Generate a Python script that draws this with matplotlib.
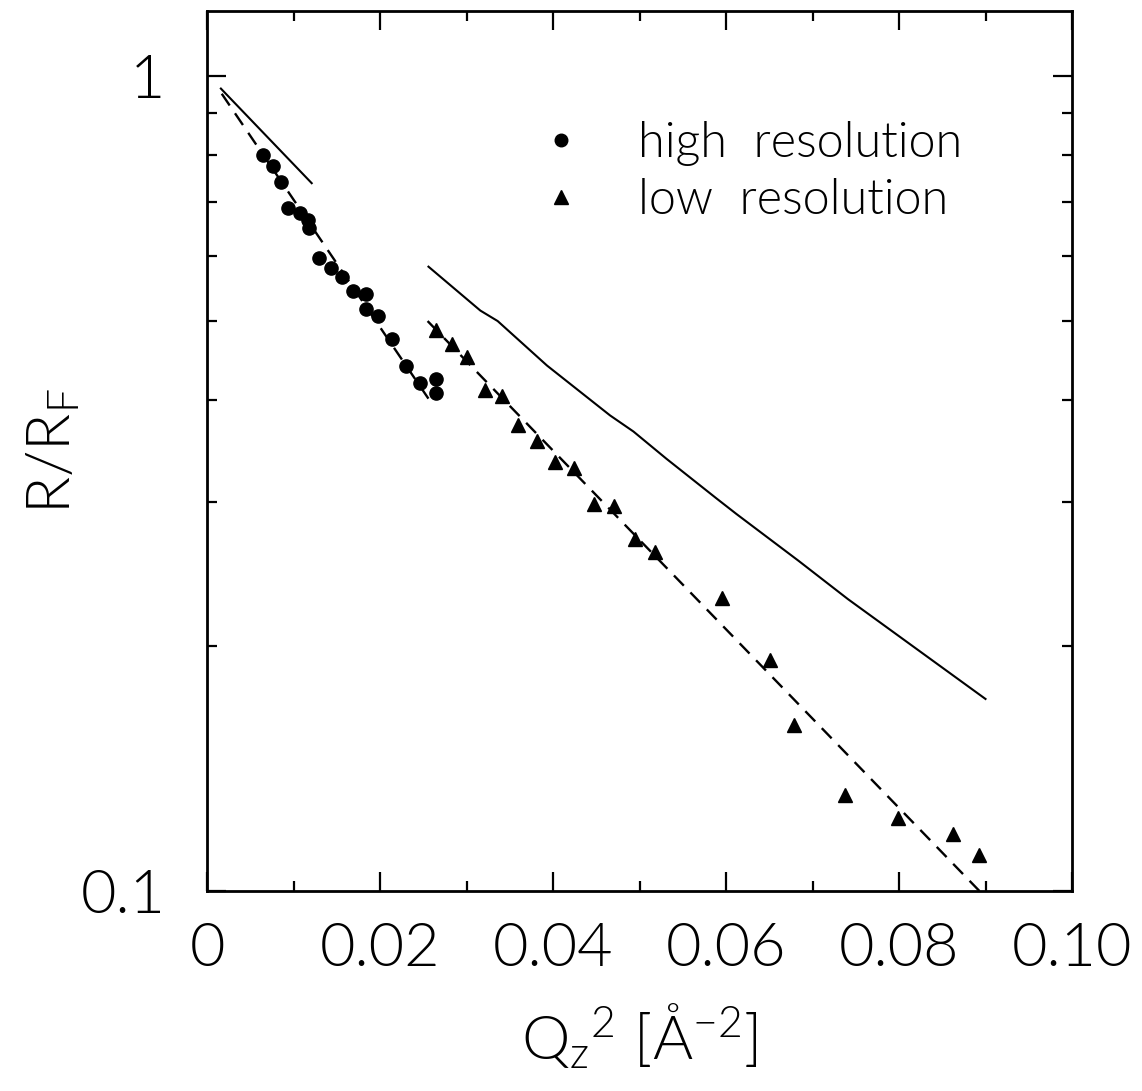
import numpy as np
import matplotlib.pyplot as plt
from matplotlib.ticker import FixedLocator, NullFormatter, LogLocator

plt.rcParams['font.family'] = ['Lato', 'DejaVu Sans']
plt.rcParams['font.weight'] = 300
plt.rcParams['axes.labelweight'] = 300
plt.rcParams['mathtext.fontset'] = 'custom'
plt.rcParams['mathtext.rm'] = 'Lato:weight=300'
plt.rcParams['mathtext.it'] = 'Lato:weight=300'

# high resolution data (circles)
q2_high = [0.0065, 0.0076, 0.0085, 0.0094, 0.0108, 0.0117, 0.0118, 0.0130, 0.0143,
           0.0156, 0.0169, 0.0184, 0.0184, 0.0198, 0.0214, 0.0230, 0.0246, 0.0265, 0.0265]
r_high = [0.800, 0.774, 0.741, 0.689, 0.678, 0.665, 0.651, 0.598, 0.580,
          0.567, 0.544, 0.539, 0.517, 0.507, 0.475, 0.441, 0.420, 0.424, 0.408]

# low resolution data (triangles)
q2_low = [0.0265, 0.0283, 0.0301, 0.0321, 0.0341, 0.0360, 0.0381, 0.0402, 0.0424, 0.0447,
          0.0471, 0.0495, 0.0518, 0.0595, 0.0651, 0.0679, 0.0738, 0.0799, 0.0862, 0.0892]
r_low = [0.488, 0.469, 0.452, 0.411, 0.405, 0.3725, 0.356, 0.336, 0.3305, 0.2986,
         0.297, 0.2705, 0.2604, 0.229, 0.192, 0.160, 0.131, 0.123, 0.1176, 0.1107]

# fits (dashed) and model curves (solid)
fit1_x = [0.0017, 0.0262]
fit1_y = [0.95, 0.393]
fit2_x = [0.0255, 0.0893]
fit2_y = [0.50, 0.100]
model1_x = [0.0016, 0.0121]
model1_y = [0.964, 0.738]
model2_x = [0.0256, 0.0316, 0.0336, 0.0393, 0.0466, 0.0493, 0.0531, 0.0589, 0.0612, 0.0684, 0.0741, 0.0900]
model2_y = [0.583, 0.515, 0.500, 0.441, 0.383, 0.366, 0.339, 0.303, 0.290, 0.254, 0.228, 0.172]

fig = plt.figure(figsize=(11.42, 10.91), dpi=100)
ax = fig.add_axes([0.1813, 0.1833, 0.9387 - 0.1813, 0.9899 - 0.1833])

ax.plot(model1_x, model1_y, '-k', lw=1.5)
ax.plot(model2_x, model2_y, '-k', lw=1.5)
ax.plot(fit1_x, fit1_y, color='k', lw=1.7, linestyle=(0, (6, 4)))
ax.plot(fit2_x, fit2_y, color='k', lw=1.7, linestyle=(0, (6, 4)))
h1, = ax.plot(q2_high, r_high, 'o', color='k', ms=9.5, mec='k', label='high  resolution')
h2, = ax.plot(q2_low, r_low, '^', color='k', ms=10.5, mec='k', label='low  resolution')

ax.set_yscale('log')
ax.set_xlim(0, 0.10)
ax.set_ylim(0.1, 1.2)

ax.set_xticks([0, 0.02, 0.04, 0.06, 0.08, 0.10])
ax.set_xticklabels(['0', '0.02', '0.04', '0.06', '0.08', '0.10'])
ax.xaxis.set_minor_locator(FixedLocator([0.01, 0.03, 0.05, 0.07, 0.09]))
ax.set_yticks([0.1, 1])
ax.set_yticklabels(['0.1', '1'])
ax.yaxis.set_minor_locator(LogLocator(base=10, subs=np.arange(2, 10)))
ax.yaxis.set_minor_formatter(NullFormatter())

ax.tick_params(which='both', direction='in', top=True, right=True, width=1.6)
ax.tick_params(which='major', length=14, labelsize=44)
ax.tick_params(which='minor', length=7)
ax.tick_params(axis='x', which='major', pad=22)
ax.tick_params(axis='y', which='major', pad=30)
for s in ax.spines.values():
    s.set_linewidth(2)

ax.set_xlabel('Q$_z$$^2$ [Å$^{-2}$]', fontsize=44, labelpad=18)
ax.set_ylabel('R/R$_F$', fontsize=44)
ax.yaxis.set_label_coords(-0.145, 0.5)

ax.legend(handles=[h1, h2], loc='upper left', bbox_to_anchor=(0.33, 0.925), frameon=False,
          fontsize=35, handlelength=1.0, handletextpad=1.1, labelspacing=0.25,
          markerscale=0.95)

fig.savefig('out.png', dpi=100)
